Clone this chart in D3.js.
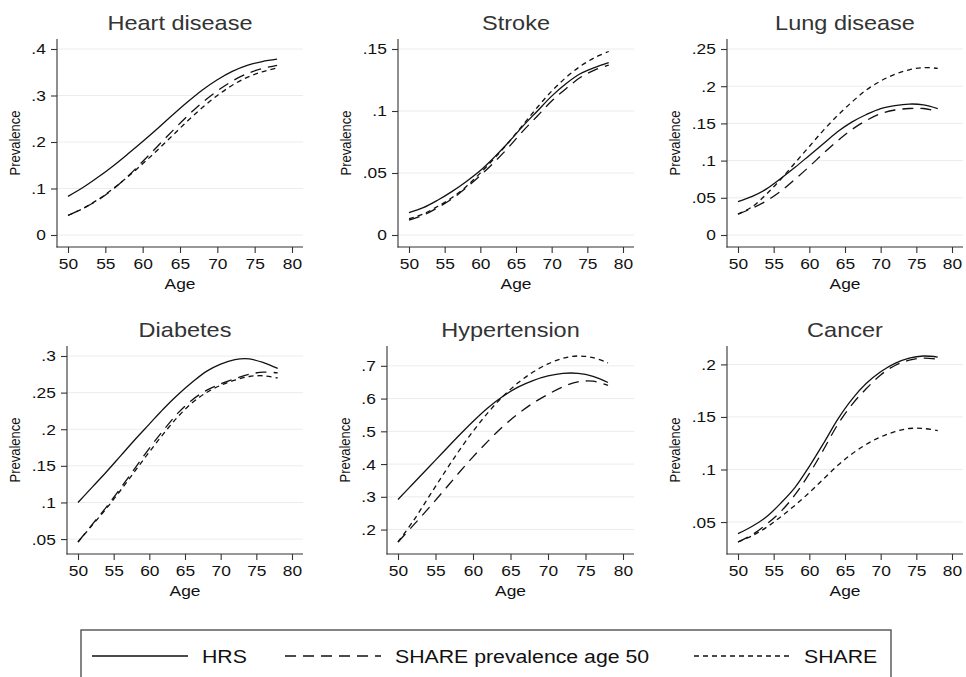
<!DOCTYPE html>
<html>
<head>
<meta charset="utf-8">
<script src="https://cdn.jsdelivr.net/npm/d3@7"></script>
<style>
body { margin: 0; background: #fff; }
svg { display: block; font-family: 'Liberation Sans', Arial, Helvetica, sans-serif; }
</style>
</head>
<body>
<div id="chart"></div>
<script>
// ages at which the fitted prevalences are read
const ages = [50, 52, 54, 56, 58, 60, 62, 64, 66, 68, 70, 72, 74, 76, 78];
const xTicks = [50, 55, 60, 65, 70, 75, 80];
const seriesNames = ['HRS', 'SHARE prevalence age 50', 'SHARE'];

const heartHRS = [.083, .102, .124, .148, .174, .201, .229, .258, .286, .312, .334, .352, .365, .373, .378];
const heartShare50 = [.042, .057, .075, .098, .126, .158, .191, .224, .256, .285, .310, .331, .347, .358, .365];
const heartShare = [.042, .057, .076, .099, .125, .153, .183, .214, .245, .274, .300, .322, .339, .351, .359];

const strokeHRS = [.018, .022, .028, .035, .043, .052, .063, .075, .088, .100, .112, .122, .130, .135, .139];
const strokeShare50 = [.012, .016, .022, .029, .038, .048, .059, .071, .084, .096, .108, .118, .127, .133, .137];
const strokeShare = [.013, .017, .023, .030, .039, .050, .062, .075, .089, .103, .116, .127, .136, .143, .148];

const lungHRS = [.045, .052, .062, .076, .091, .107, .123, .139, .152, .162, .170, .174, .176, .175, .170];
const lungShare50 = [.028, .036, .046, .059, .075, .092, .110, .127, .142, .154, .163, .168, .170, .170, .166];
const lungShare = [.028, .038, .055, .075, .097, .119, .141, .161, .179, .195, .207, .216, .222, .225, .224];

const diabetesHRS = [.100, .121, .142, .164, .186, .207, .228, .247, .264, .279, .289, .295, .296, .291, .283];
const diabetesShare50 = [.046, .070, .094, .120, .147, .174, .199, .222, .240, .253, .262, .269, .275, .278, .277];
const diabetesShare = [.046, .069, .092, .117, .143, .169, .194, .217, .236, .250, .260, .267, .272, .273, .270];

const hyperHRS = [.292, .340, .388, .436, .484, .530, .572, .607, .635, .655, .669, .677, .677, .668, .649];
const hyperShare50 = [.162, .212, .263, .316, .370, .422, .470, .515, .553, .586, .613, .636, .651, .653, .640];
const hyperShare = [.162, .225, .296, .367, .436, .500, .557, .607, .648, .681, .706, .723, .730, .725, .709];

const cancerHRS = [.039, .046, .055, .068, .083, .103, .125, .148, .167, .182, .193, .201, .206, .208, .207];
const cancerShare50 = [.031, .038, .048, .060, .076, .096, .119, .143, .162, .177, .190, .199, .204, .206, .205];
const cancerShare = [.031, .037, .045, .055, .066, .078, .091, .104, .115, .124, .131, .136, .139, .139, .137];

const titles = ['Heart disease', 'Stroke', 'Lung disease', 'Diabetes', 'Hypertension', 'Cancer'];
const yTicks = [
    [0, .1, .2, .3, .4],
    [0, .05, .1, .15],
    [0, .05, .1, .15, .2, .25],
    [.05, .1, .15, .2, .25, .3],
    [.2, .3, .4, .5, .6, .7],
    [.05, .1, .15, .2]
];
const panelSeries = [
    [heartHRS, heartShare50, heartShare],
    [strokeHRS, strokeShare50, strokeShare],
    [lungHRS, lungShare50, lungShare],
    [diabetesHRS, diabetesShare50, diabetesShare],
    [hyperHRS, hyperShare50, hyperShare],
    [cancerHRS, cancerShare50, cancerShare]
];

// plot regions (pixels)
const frames = [
    { left: 57, right: 303, top: 39, bottom: 247 },
    { left: 398, right: 634, top: 39, bottom: 247 },
    { left: 727, right: 963, top: 39, bottom: 247 },
    { left: 67, right: 303, top: 346, bottom: 554 },
    { left: 387, right: 634, top: 346, bottom: 554 },
    { left: 727, right: 963, top: 346, bottom: 554 }
];
const dashes = [null, '11,7', '5,4'];
const SX = 1.12; // glyphs in the original are a bit wide
const ink = '#111';

const fmt = function (d) { return d === 0 ? '0' : d3.format('~g')(d).replace(/^0\./, '.'); };

const svg = d3.select('#chart').append('svg')
    .attr('width', 966)
    .attr('height', 677);

svg.append('rect').attr('width', 966).attr('height', 677).attr('fill', '#fff');

const line = function (x, y) {
    return d3.line()
        .x(function (d) { return x(d.age); })
        .y(function (d) { return y(d.v); })
        .curve(d3.curveCatmullRom.alpha(0.5));
};

titles.forEach(function (title, i) {
    const f = frames[i];
    const series = panelSeries[i];
    const ticks = yTicks[i];

    const x = d3.scaleLinear().domain([50, 80]).range([f.left + 11, f.right - 11]);
    const y = d3.scaleLinear()
        .domain(d3.extent(series.flat().concat(ticks)))
        .range([f.bottom - 12, f.top + 10]);

    const g = svg.append('g').attr('class', 'panel');

    // grid
    g.selectAll('.grid')
        .data(ticks)
        .enter()
        .append('line')
        .attr('class', 'grid')
        .attr('x1', f.left).attr('x2', f.right)
        .attr('y1', function (d) { return y(d); })
        .attr('y2', function (d) { return y(d); })
        .attr('stroke', '#ececec')
        .attr('stroke-width', 1);

    // y axis
    const yAxis = g.append('g')
        .attr('transform', 'translate(' + f.left + ',0)')
        .call(d3.axisLeft(y).tickValues(ticks).tickFormat(fmt).tickSize(6).tickSizeOuter(0).tickPadding(4));
    yAxis.select('.domain').remove();
    yAxis.append('line')
        .attr('y1', f.top).attr('y2', f.bottom + 0.5)
        .attr('stroke', '#333').attr('stroke-width', 1.1);
    yAxis.selectAll('.tick line').attr('stroke', '#333').attr('stroke-width', 1.1);
    yAxis.selectAll('.tick text')
        .attr('fill', ink)
        .attr('font-size', '15.5px')
        .attr('transform', 'scale(' + SX + ',1)');
    yAxis.attr('font-family', null).attr('font-size', null);

    // x axis
    const xAxis = g.append('g')
        .attr('transform', 'translate(0,' + f.bottom + ')')
        .call(d3.axisBottom(x).tickValues(xTicks).tickSize(6).tickSizeOuter(0).tickPadding(5));
    xAxis.select('.domain').remove();
    xAxis.append('line')
        .attr('x1', f.left - 0.5).attr('x2', f.right)
        .attr('stroke', '#333').attr('stroke-width', 1.1);
    xAxis.selectAll('.tick line').attr('stroke', '#333').attr('stroke-width', 1.1);
    xAxis.selectAll('.tick text')
        .attr('fill', ink)
        .attr('font-size', '15.5px')
        .attr('transform', 'scale(' + SX + ',1)');
    xAxis.attr('font-family', null).attr('font-size', null);

    // series
    series.forEach(function (vals, k) {
        const pts = ages.map(function (a, j) { return { age: a, v: vals[j] }; });
        g.append('path')
            .datum(pts)
            .attr('class', 'series s' + k)
            .attr('fill', 'none')
            .attr('stroke', ink)
            .attr('stroke-width', 1.3)
            .attr('stroke-dasharray', dashes[k])
            .attr('d', line(x, y));
    });

    // title + axis titles
    g.append('text')
        .attr('transform', 'translate(' + ((f.left + f.right) / 2) + ',' + (f.top - 9.5) + ') scale(' + SX + ',1)')
        .attr('text-anchor', 'middle')
        .attr('fill', '#333')
        .style('font-size', '21px')
        .text(title);

    g.append('text')
        .attr('transform', 'translate(' + ((f.left + f.right) / 2) + ',' + (f.bottom + 42) + ') scale(' + SX + ',1)')
        .attr('text-anchor', 'middle')
        .attr('fill', ink)
        .style('font-size', '15.5px')
        .text('Age');

    const bb = yAxis.node().getBBox();
    g.append('text')
        .attr('transform', 'translate(' + (f.left + bb.x - 16.5) + ',' + ((f.top + f.bottom) / 2) + ') scale(' + SX + ',1) rotate(-90)')
        .attr('text-anchor', 'middle')
        .attr('dy', '0.35em')
        .attr('fill', ink)
        .style('font-size', '13px')
        .text('Prevalence');
});

// legend
const legend = svg.append('g').attr('class', 'legend');
legend.append('rect')
    .attr('x', 81).attr('y', 630)
    .attr('width', 810).attr('height', 70)
    .attr('fill', 'none')
    .attr('stroke', '#444')
    .attr('stroke-width', 1.3);

const legendX = [92, 285, 694];
seriesNames.forEach(function (name, k) {
    legend.append('line')
        .attr('x1', legendX[k]).attr('x2', legendX[k] + 96)
        .attr('y1', 656).attr('y2', 656)
        .attr('stroke', ink)
        .attr('stroke-width', 1.3)
        .attr('stroke-dasharray', dashes[k]);
    legend.append('text')
        .attr('transform', 'translate(' + (legendX[k] + 110) + ',663) scale(' + SX + ',1)')
        .attr('fill', ink)
        .style('font-size', '19px')
        .text(name);
});
</script>
</body>
</html>
